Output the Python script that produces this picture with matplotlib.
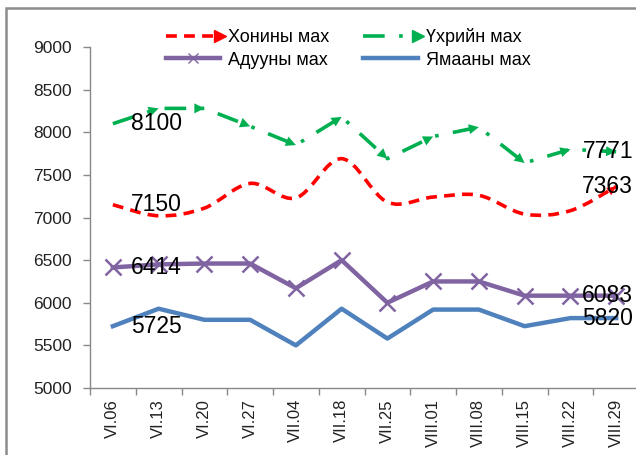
import matplotlib
matplotlib.use('Agg')
import matplotlib.pyplot as plt
from matplotlib.lines import Line2D
from matplotlib.path import Path
from matplotlib.patches import PathPatch, Rectangle
from matplotlib.legend_handler import HandlerLine2D

plt.rcParams['font.family'] = ['Liberation Sans', 'DejaVu Sans']

dates = ['VI.06', 'VI.13', 'VI.20', 'VI.27', 'VII.04', 'VII.18', 'VII.25',
         'VIII.01', 'VIII.08', 'VIII.15', 'VIII.22', 'VIII.29']
khonin = [7150, 7020, 7110, 7400, 7230, 7690, 7180, 7240, 7260, 7040, 7080, 7363]
ukhriin = [8100, 8280, 8280, 8070, 7850, 8180, 7690, 7950, 8060, 7640, 7800, 7771]
aduun = [6414, 6450, 6460, 6460, 6170, 6500, 6000, 6250, 6250, 6083, 6083, 6083]
yamaa = [5725, 5930, 5800, 5800, 5500, 5930, 5580, 5920, 5920, 5725, 5820, 5820]

RED = '#FF0000'
GREEN = '#00B050'
PURPLE = '#8064A2'
BLUE = '#4F81BD'


class MarkAt(HandlerLine2D):
    # legend handle with the marker at one chosen point (0 left, 1 mid, 2 right)
    def __init__(self, idx, **kw):
        super().__init__(**kw)
        self.idx = idx

    def create_artists(self, *args, **kwargs):
        arts = super().create_artists(*args, **kwargs)
        for a in arts:
            a.set_markevery([self.idx])
        return arts


fig = plt.figure(figsize=(6.36, 4.55), dpi=100)
# chart frame, cropped at right/bottom like the original
fig.patches.append(Rectangle((6 / 636, -0.2), 1.2, 1.2 - 8 / 455,
                             transform=fig.transFigure, fill=False,
                             edgecolor='#8c8c8c', lw=1.8))
ax = fig.add_axes([90 / 636, 1 - 388 / 455, 549 / 636, 341 / 455])

x = list(range(len(dates)))

# smoothed red curve (Bezier through the data points, Excel-style)
pts = list(zip(x, khonin))
verts = [pts[0]]
codes = [Path.MOVETO]
for i in range(len(pts) - 1):
    p0 = pts[i - 1] if i > 0 else pts[i]
    p1 = pts[i]
    p2 = pts[i + 1]
    p3 = pts[i + 2] if i + 2 < len(pts) else pts[i + 1]
    c1 = (p1[0] + (p2[0] - p0[0]) / 6, p1[1] + (p2[1] - p0[1]) / 6)
    c2 = (p2[0] - (p3[0] - p1[0]) / 6, p2[1] - (p3[1] - p1[1]) / 6)
    verts += [c1, c2, p2]
    codes += [Path.CURVE4] * 3
ax.add_patch(PathPatch(Path(verts, codes), fill=False, edgecolor=RED, lw=2.6,
                       linestyle=(0, (3, 2)), zorder=3))
ax.annotate('', xy=(x[-1], khonin[-1]), xytext=(x[-1] - 0.3, khonin[-1] - 110),
            arrowprops=dict(arrowstyle='-|>', color=RED, lw=0.01,
                            mutation_scale=16, shrinkA=0, shrinkB=0), zorder=4)

# green dash-dot with arrowheads at each point
ax.plot(x, ukhriin, color=GREEN, lw=2.6, linestyle=(0, (6, 4, 1, 4)), zorder=3)
for i in range(1, len(x)):
    ax.annotate('', xy=(x[i], ukhriin[i]), xytext=(x[i - 1], ukhriin[i - 1]),
                arrowprops=dict(arrowstyle='-|>', color=GREEN, lw=0.01,
                                mutation_scale=18, shrinkA=0, shrinkB=0), zorder=4)

ax.plot(x, aduun, color=PURPLE, lw=3.2, marker='x', ms=12, mew=1.8, zorder=3)
ax.plot(x, yamaa, color=BLUE, lw=3.2, zorder=3)

# data labels
lab_kw = dict(textcoords='offset points', fontsize=16.5, color='black', zorder=5)
for series in (ukhriin, khonin, aduun, yamaa):
    ax.annotate(f'{series[0]}', xy=(x[0], series[0]), xytext=(13, 0),
                ha='left', va='center', **lab_kw)
    ax.annotate(f'{series[-1]}', xy=(x[-1], series[-1]), xytext=(-6, 0),
                ha='center', va='center', **lab_kw)

ax.set_xlim(-0.5, len(dates) - 0.5)
ax.set_ylim(5000, 9000)
ax.set_yticks(range(5000, 9001, 500))
ax.set_xticks(x)
ax.set_xticklabels(dates, rotation=90)
ax.set_xticks([i - 0.5 for i in range(len(dates) + 1)], minor=True)
ax.tick_params(axis='x', which='major', length=0, pad=8, labelsize=12,
               labelcolor='#222222')
ax.tick_params(axis='x', which='minor', length=5, color='#888888', width=1)
ax.tick_params(axis='y', length=5, color='#888888', width=1, labelsize=12.5,
               labelcolor='#222222', pad=8)
for s in ('top', 'right'):
    ax.spines[s].set_visible(False)
for s in ('left', 'bottom'):
    ax.spines[s].set_color('#888888')
    ax.spines[s].set_linewidth(1)

# legend
h_red = Line2D([], [], color=RED, lw=2.6, linestyle=(0, (3, 2)), marker='>', ms=9)
h_green = Line2D([], [], color=GREEN, lw=2.6, linestyle=(0, (6, 4, 1, 4)),
                 marker='>', ms=9)
h_purple = Line2D([], [], color=PURPLE, lw=3.2, marker='x', ms=7, mew=1)
h_blue = Line2D([], [], color=BLUE, lw=3.2)
fig.legend([h_red, h_purple, h_green, h_blue],
           ['Хонины мах', 'Адууны мах', 'Үхрийн мах', 'Ямааны мах'],
           handler_map={h_red: MarkAt(2), h_green: MarkAt(2), h_purple: MarkAt(1)},
           ncol=2, loc='center', bbox_to_anchor=(348 / 636, 1 - 48.5 / 455),
           frameon=False, fontsize=13, handlelength=3.0, handletextpad=0.45,
           columnspacing=1.9, labelspacing=0.3, numpoints=1)

fig.savefig('out.png', dpi=100)
